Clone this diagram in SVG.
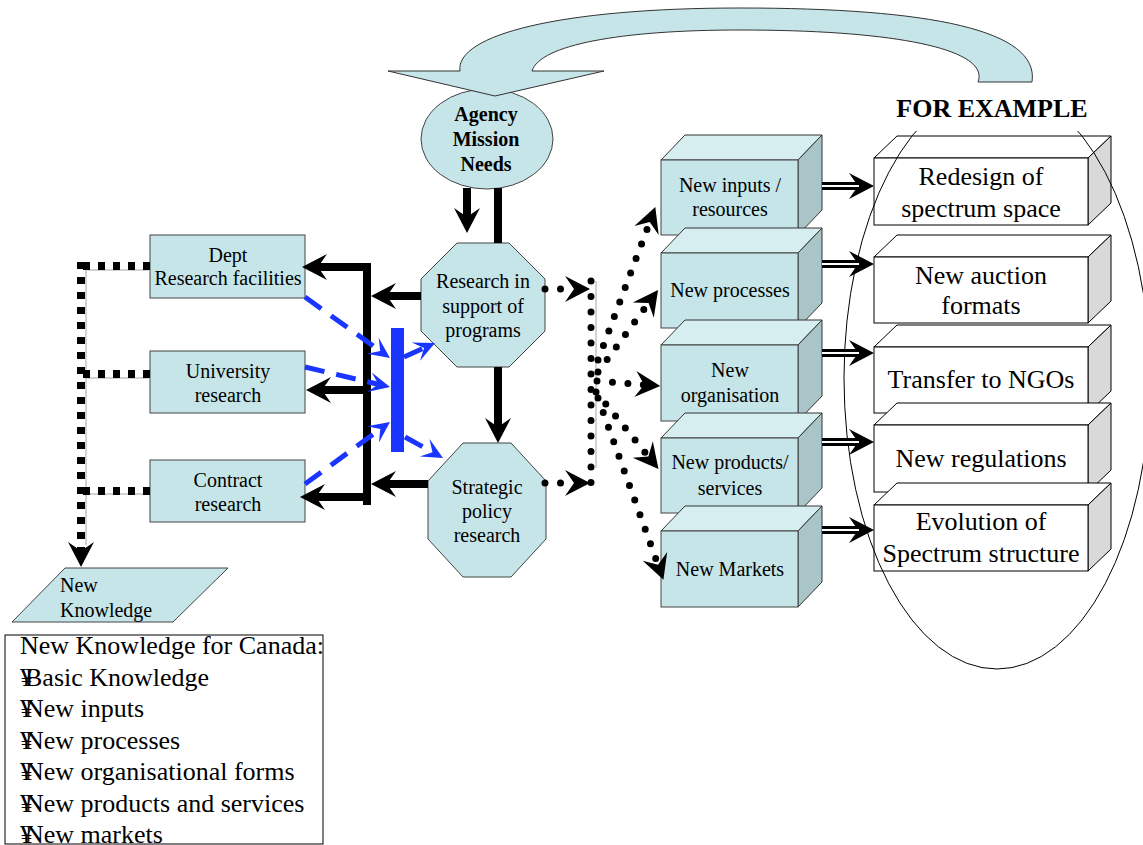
<svg xmlns="http://www.w3.org/2000/svg" width="1143" height="845" viewBox="0 0 1143 845">
<style>
text{font-family:"Liberation Serif","Times New Roman",serif;fill:#000}
.t20{font-size:20px;text-anchor:middle}
.t26{font-size:26px;text-anchor:middle}
.cy{fill:#c5e5e9;stroke:#444;stroke-width:1}
.cytop{fill:#d6eef0;stroke:#333;stroke-width:1}
.cyside{fill:#a9c5c8;stroke:#333;stroke-width:1}
.wf{fill:#fff;stroke:#000;stroke-width:1}
.ws{fill:#d9d9d9;stroke:#000;stroke-width:1}
.thick{fill:none;stroke:#000;stroke-width:8}
.dotr{fill:none;stroke:#000;stroke-width:7;stroke-dasharray:0 15.5;stroke-linecap:round}
.dotsq{fill:none;stroke:#000;stroke-width:8;stroke-dasharray:7 8}
.gray{fill:none;stroke:#c4c4c4;stroke-width:1.5}
.blue{fill:none;stroke:#1a35ff;stroke-width:5;stroke-dasharray:20 12}
.dbl{fill:none;stroke:#000;stroke-width:8}
.dbli{fill:none;stroke:#fff;stroke-width:2}
</style>
<defs>
<marker id="ah" viewBox="-26 -14 27 28" refX="-16" refY="0" markerWidth="27" markerHeight="28" markerUnits="userSpaceOnUse" orient="auto"><path d="M0,0 L-25,-13 L-16,0 L-25,13 Z" fill="#000"/></marker>
<marker id="ahb" viewBox="-22 -11 23 22" refX="-12" refY="0" markerWidth="23" markerHeight="22" markerUnits="userSpaceOnUse" orient="auto"><path d="M0,0 L-21,-10 L-12,0 L-21,10 Z" fill="#1a35ff"/></marker>
</defs>
<rect width="1143" height="845" fill="#fff"/>

<g id="agency">
<ellipse cx="487" cy="139" rx="66" ry="50" class="cy"/>
<text x="486" y="121" class="t20" font-weight="bold">Agency</text>
<text x="486" y="146" class="t20" font-weight="bold">Mission</text>
<text x="486" y="171" class="t20" font-weight="bold">Needs</text>
</g>

<g id="dept">
<rect x="150" y="235" width="155" height="63" class="cy"/>
<text x="228" y="262" class="t20">Dept</text>
<text x="228" y="285" class="t20">Research facilities</text>
</g>
<g id="university">
<rect x="150" y="351" width="155" height="62" class="cy"/>
<text x="228" y="378" class="t20">University</text>
<text x="228" y="402" class="t20">research</text>
</g>
<g id="contract">
<rect x="150" y="460" width="155" height="62" class="cy"/>
<text x="228" y="487" class="t20">Contract</text>
<text x="228" y="511" class="t20">research</text>
</g>

<g id="research-support">
<polygon points="457,243 509,243 545,279 545,331 509,367 457,367 421,331 421,279" class="cy"/>
<text x="483" y="288" class="t20">Research in</text>
<text x="483" y="313" class="t20">support of</text>
<text x="483" y="337" class="t20">programs</text>
</g>
<g id="strategic-policy">
<polygon points="463,443 511,443 546,481 546,539 511,577 463,577 428,539 428,481" class="cy"/>
<text x="487" y="494" class="t20">Strategic</text>
<text x="487" y="518" class="t20">policy</text>
<text x="487" y="542" class="t20">research</text>
</g>

<g id="new-knowledge">
<polygon points="65,568 228,568 173,622 12,622" class="cy"/>
<text x="60" y="592" font-size="20">New</text>
<text x="60" y="617" font-size="20">Knowledge</text>
</g>

<g id="knowledge-list">
<rect x="5" y="635" width="318" height="209" fill="#fff" stroke="#000" stroke-width="1"/>
<text x="20" y="654" font-size="26">New Knowledge for Canada:</text>
<text x="20" y="686" font-size="26">¥<tspan dx="-8">Basic Knowledge</tspan></text>
<text x="20" y="717" font-size="26">¥<tspan dx="-8">New inputs</tspan></text>
<text x="20" y="749" font-size="26">¥<tspan dx="-8">New processes</tspan></text>
<text x="20" y="780" font-size="26">¥<tspan dx="-8">New organisational forms</tspan></text>
<text x="20" y="812" font-size="26">¥<tspan dx="-8">New products and services</tspan></text>
<text x="20" y="843" font-size="26">¥<tspan dx="-8">New markets</tspan></text>
</g>

<g id="new-inputs">
<polygon points="661,160 685,135 822,135 798,160" class="cytop"/>
<polygon points="798,160 822,135 822,210 798,235" class="cyside"/>
<rect x="661" y="160" width="137" height="75" class="cy" stroke="#333"/>
<text x="730" y="192" class="t20">New inputs /</text>
<text x="730" y="216" class="t20">resources</text>
</g>
<g id="new-processes">
<polygon points="661,253 685,228 822,228 798,253" class="cytop"/>
<polygon points="798,253 822,228 822,303 798,328" class="cyside"/>
<rect x="661" y="253" width="137" height="75" class="cy" stroke="#333"/>
<text x="730" y="297" class="t20">New processes</text>
</g>
<g id="new-organisation">
<polygon points="661,345 685,320 822,320 798,345" class="cytop"/>
<polygon points="798,345 822,320 822,396 798,421" class="cyside"/>
<rect x="661" y="345" width="137" height="76" class="cy" stroke="#333"/>
<text x="730" y="377" class="t20">New</text>
<text x="730" y="402" class="t20">organisation</text>
</g>
<g id="new-products">
<polygon points="661,438 685,413 822,413 798,438" class="cytop"/>
<polygon points="798,438 822,413 822,488 798,513" class="cyside"/>
<rect x="661" y="438" width="137" height="75" class="cy" stroke="#333"/>
<text x="730" y="469" class="t20">New products/</text>
<text x="730" y="495" class="t20">services</text>
</g>
<g id="new-markets">
<polygon points="661,531 685,506 822,506 798,531" class="cytop"/>
<polygon points="798,531 822,506 822,582 798,607" class="cyside"/>
<rect x="661" y="531" width="137" height="76" class="cy" stroke="#333"/>
<text x="730" y="576" class="t20">New Markets</text>
</g>

<g id="redesign">
<polygon points="874,158 897,136 1111,136 1088,158" class="wf"/>
<polygon points="1088,158 1111,136 1111,203 1088,225" class="ws"/>
<rect x="874" y="158" width="214" height="67" class="wf"/>
<text x="981" y="185" class="t26">Redesign of</text>
<text x="981" y="217" class="t26">spectrum space</text>
</g>
<g id="auction">
<polygon points="874,257 897,235 1111,235 1088,257" class="wf"/>
<polygon points="1088,257 1111,235 1111,301 1088,323" class="ws"/>
<rect x="874" y="257" width="214" height="66" class="wf"/>
<text x="981" y="284" class="t26">New auction</text>
<text x="981" y="314" class="t26">formats</text>
</g>
<g id="ngos">
<polygon points="874,347 897,325 1111,325 1088,347" class="wf"/>
<polygon points="1088,347 1111,325 1111,391 1088,413" class="ws"/>
<rect x="874" y="347" width="214" height="66" class="wf"/>
<text x="981" y="388" class="t26">Transfer to NGOs</text>
</g>
<g id="regulations">
<polygon points="874,425 897,403 1111,403 1088,425" class="wf"/>
<polygon points="1088,425 1111,403 1111,470 1088,492" class="ws"/>
<rect x="874" y="425" width="214" height="67" class="wf"/>
<text x="981" y="467" class="t26">New regulations</text>
</g>
<g id="evolution">
<polygon points="874,505 897,483 1111,483 1088,505" class="wf"/>
<polygon points="1088,505 1111,483 1111,549 1088,571" class="ws"/>
<rect x="874" y="505" width="214" height="66" class="wf"/>
<text x="981" y="530" class="t26">Evolution of</text>
<text x="981" y="562" class="t26">Spectrum structure</text>
</g>

<g id="examples-ellipse">
<ellipse cx="997" cy="378" rx="153" ry="291" fill="none" stroke="#000" stroke-width="1"/>
<rect x="885" y="84" width="215" height="47" fill="#fff"/>
<text x="992" y="117" font-size="26" font-weight="bold" text-anchor="middle">FOR EXAMPLE</text>
</g>

<g id="connectors">
<path d="M460,71 C455,35 560,8 740,8 C930,8 1040,30 1032,82 L978,82 C990,50 900,30 740,30 C620,30 540,45 532,71 L604,71 L495,96 L388,71 Z" fill="#c5e5e9" stroke="#333" stroke-width="1"/>
<path d="M467,188 L467,217" class="thick" marker-end="url(#ah)"/>
<path d="M498,188 L498,243" class="thick"/>
<path d="M498,367 L498,427" class="thick" marker-end="url(#ah)"/>
<path d="M421,296 L387,296" class="thick" marker-end="url(#ah)"/>
<path d="M428,484 L387,484" class="thick" marker-end="url(#ah)"/>
<path d="M367,263 L367,505" class="thick"/>
<path d="M371,267 L318,267" class="thick" marker-end="url(#ah)"/>
<path d="M367,390 L322,390" class="thick" marker-end="url(#ah)"/>
<path d="M367,497 L316,497" class="thick" marker-end="url(#ah)"/>

<path d="M86,270 L86,545 M86,270 L150,270 M86,378 L150,378 M86,494 L150,494" class="gray"/>
<path d="M150,266 L81,266" class="dotsq"/>
<path d="M150,374 L81,374" class="dotsq"/>
<path d="M150,491 L81,491" class="dotsq"/>
<path d="M81,262 L81,551" class="dotsq" marker-end="url(#ah)"/>

<path d="M596,281 L596,468" class="gray"/>
<path d="M545,289 L574,289" class="dotr" marker-end="url(#ah)"/>
<path d="M545,483 L574,483" class="dotr" marker-end="url(#ah)"/>
<path d="M591,281 L591,483" class="dotr"/>
<path d="M598,360 L649.7,222.1" class="dotr" marker-end="url(#ah)"/>
<path d="M598,372 L648.6,302.9" class="dotr" marker-end="url(#ah)"/>
<path d="M597,381 L644.3,384.8" class="dotr" marker-end="url(#ah)"/>
<path d="M596,392 L648.4,456.5" class="dotr" marker-end="url(#ah)"/>
<path d="M598,398 L658,564.8" class="dotr" marker-end="url(#ah)"/>

<path d="M822,186 L858,186" class="dbl" marker-end="url(#ah)"/>
<path d="M822,186 L859,186" class="dbli"/>
<path d="M822,264 L858,264" class="dbl" marker-end="url(#ah)"/>
<path d="M822,264 L859,264" class="dbli"/>
<path d="M822,353 L858,353" class="dbl" marker-end="url(#ah)"/>
<path d="M822,353 L859,353" class="dbli"/>
<path d="M822,442 L858,442" class="dbl" marker-end="url(#ah)"/>
<path d="M822,442 L859,442" class="dbli"/>
<path d="M822,530 L858,530" class="dbl" marker-end="url(#ah)"/>
<path d="M822,530 L859,530" class="dbli"/>

<rect x="391" y="328" width="13" height="124" fill="#1a35ff"/>
<path d="M305,297 L380.2,351" class="blue" marker-end="url(#ahb)"/>
<path d="M305,367 L378.3,384.3" class="blue" marker-end="url(#ahb)"/>
<path d="M305,484 L380.3,429.1" class="blue" marker-end="url(#ahb)"/>
<path d="M404,357 L424.1,347.9" class="blue" marker-end="url(#ahb)"/>
<path d="M405,437 L432.5,452.2" class="blue" marker-end="url(#ahb)"/>
</g>
</svg>
